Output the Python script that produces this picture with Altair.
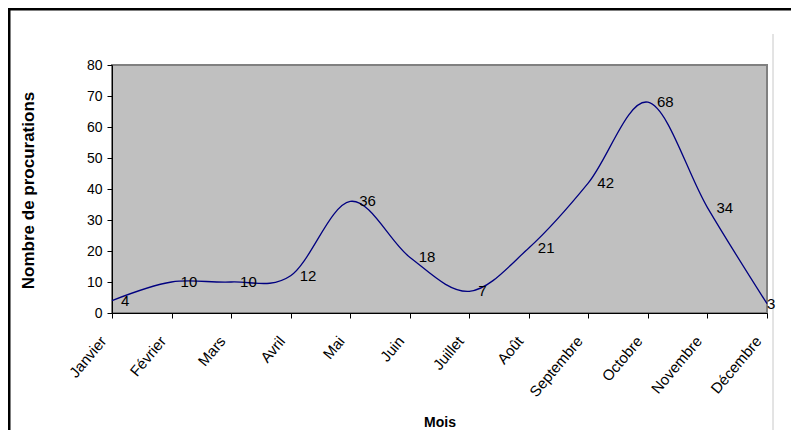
import altair as alt
import pandas as pd

months = ["Janvier", "Février", "Mars", "Avril", "Mai", "Juin", "Juillet",
          "Août", "Septembre", "Octobre", "Novembre", "Décembre"]
values = [4, 10, 10, 12, 36, 18, 7, 21, 42, 68, 34, 3]
y_ticks = [0, 10, 20, 30, 40, 50, 60, 70, 80]

df = pd.DataFrame({"Mois": months, "Valeur": values})
df["last"] = [m == months[-1] for m in months]

FONT = "Liberation Sans"
W, H = 655, 248

base = alt.Chart(df).encode(
    x=alt.X("Mois:N", sort=months,
            scale=alt.Scale(type="point", padding=0),
            axis=alt.Axis(title="Mois", labelAngle=-50, labelAlign="right",
                          labelBaseline="middle", labelPadding=20, labelOffset=-9,
                          labelFont=FONT, labelFontSize=15, labelColor="black",
                          domainColor="black", tickColor="black", tickSize=5,
                          titleFont=FONT, titleFontSize=14, titleFontWeight="bold",
                          titleColor="black", titleY=102, titleBaseline="top",
                          grid=False)),
    y=alt.Y("Valeur:Q",
            scale=alt.Scale(domain=[0, 80], nice=False),
            axis=alt.Axis(title="Nombre de procurations", values=y_ticks,
                          labelFont=FONT, labelFontSize=14, labelColor="black",
                          labelPadding=5,
                          domainColor="black", tickColor="black", tickSize=5,
                          titleFont=FONT, titleFontSize=17, titleFontWeight="bold",
                          titleColor="black", titleX=-84, titleY=H / 2 + 1,
                          titleBaseline="middle", grid=False)),
)

line = base.mark_line(color="#000080", strokeWidth=1.3, interpolate="cardinal")

labels = base.transform_filter("!datum.last").mark_text(
    align="left", baseline="middle", dx=9, font=FONT, fontSize=15, color="black"
).encode(text="Valeur:Q")

last_label = base.transform_filter("datum.last").mark_text(
    align="left", baseline="middle", dx=0, font=FONT, fontSize=15, color="black"
).encode(text="Valeur:Q")

deco = alt.Chart(pd.DataFrame({"a": [0]}))
top_border = deco.mark_rule(color="black", strokeWidth=3).encode(
    x=alt.value(-104), x2=alt.value(W + 30), y=alt.value(-56))
left_border = deco.mark_rule(color="black", strokeWidth=3).encode(
    x=alt.value(-103), y=alt.value(-57), y2=alt.value(H + 130))
gray_line = deco.mark_rule(color="#C8C8C8", strokeWidth=1).encode(
    x=alt.value(661), y=alt.value(-31), y2=alt.value(H + 130))

chart = alt.layer(top_border, left_border, gray_line, line, labels, last_label).properties(
    width=W, height=H,
    autosize=alt.AutoSizeParams(type="none"),
    padding={"left": 104, "top": 57, "right": 24, "bottom": 117},
    background="white",
).configure_view(
    fill="#C0C0C0", stroke="#808080", strokeWidth=2
)

chart.save("out.html", embed_options={"renderer": "svg", "actions": False})
